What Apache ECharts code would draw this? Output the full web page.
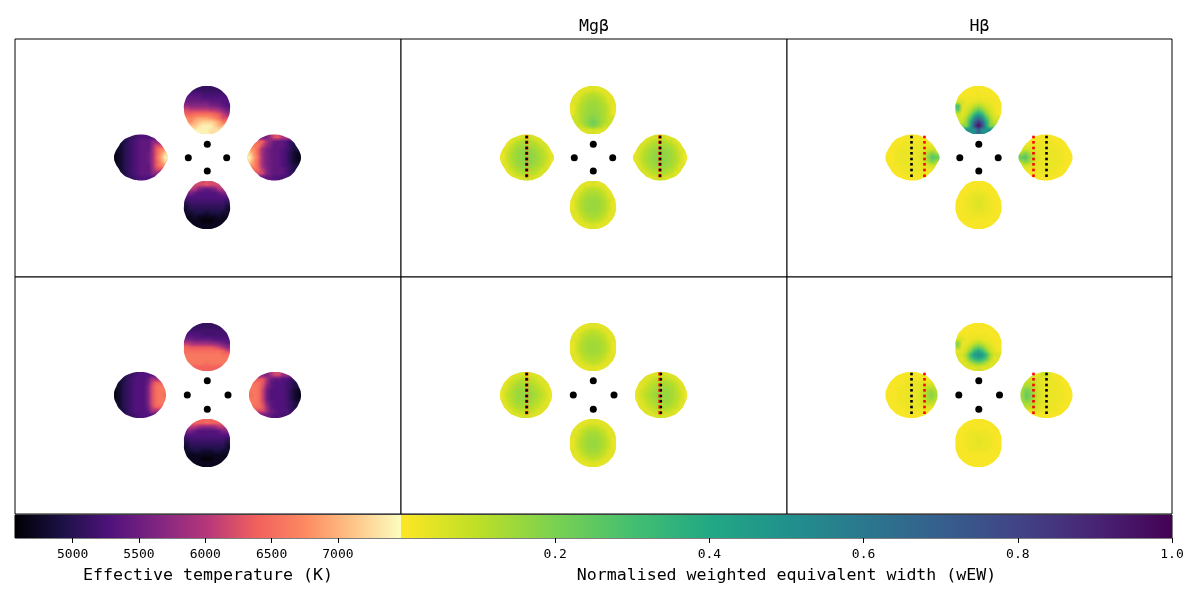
<!DOCTYPE html>
<html>
<head>
<meta charset="utf-8">
<style>html,body{margin:0;padding:0;background:#fff}#main{width:1200px;height:600px}</style>
<script src="https://cdn.jsdelivr.net/npm/echarts@6/dist/echarts.min.js"></script>
</head>
<body>
<div id="main"></div>
<script>
// temperature maps in units of 100 K, wEW maps in percent, 0 = off the disc
// upper row, temperature
var tempTopA=[[0,0,0,0,51,51,51,0,0,0,0],[0,0,53,53,52,52,52,52,52,0,0],[0,54,54,54,53,53,53,53,53,53,0],[0,55,55,55,55,55,54,54,54,53,0],[58,57,57,57,57,57,56,56,55,54,53],[62,61,61,61,61,61,60,60,59,57,55],[64,64,65,65,65,65,65,64,63,61,58],[0,67,68,69,69,69,68,67,65,62,0],[0,68,70,71,72,72,72,71,69,66,0],[0,0,71,73,74,74,74,72,70,0,0],[0,0,0,0,74,74,73,0,0,0,0]];
var tempLeftA=[[0,0,0,0,51,52,53,53,53,0,0,0,0],[0,0,49,51,52,53,54,54,54,57,0,0,0],[0,48,50,51,52,53,54,54,54,58,62,0,0],[0,48,50,51,52,53,54,54,54,59,64,67,0],[47,48,50,51,52,53,54,54,55,59,64,68,72],[47,48,50,51,52,53,54,54,55,59,65,69,74],[47,48,50,51,52,53,54,54,55,59,64,68,72],[0,48,50,51,52,53,54,54,54,59,64,67,0],[0,48,50,51,52,53,54,54,54,58,62,0,0],[0,0,49,51,52,53,54,54,54,57,0,0,0],[0,0,0,0,51,52,53,53,53,0,0,0,0]];
var tempRightA=[[0,0,0,0,55,58,62,63,60,0,0,0,0],[0,0,0,64,60,57,55,54,54,53,51,0,0],[0,0,66,62,58,56,54,54,54,53,51,49,0],[0,68,64,59,56,55,54,54,53,52,51,49,0],[72,68,64,59,56,55,54,54,53,52,50,48,47],[74,69,65,59,56,55,54,54,53,52,50,48,47],[72,68,64,59,56,55,54,54,53,52,50,48,47],[0,68,64,59,56,55,54,54,53,52,51,49,0],[0,0,65,61,57,55,54,54,54,53,51,49,0],[0,0,0,62,57,55,54,54,54,53,51,0,0],[0,0,0,0,54,54,53,53,52,0,0,0,0]];
var tempBottomA=[[0,0,0,0,62,63,62,0,0,0,0],[0,0,60,56,55,54,55,56,60,0,0],[0,56,54,53,53,53,53,53,54,56,0],[0,53,53,53,53,53,53,53,53,53,0],[51,52,52,52,52,52,52,52,52,52,51],[49,51,51,51,51,51,51,51,51,51,49],[48,50,50,50,50,50,50,50,50,50,48],[0,48,49,49,49,48,49,49,49,48,0],[0,47,48,47,47,47,47,47,48,47,0],[0,0,47,47,46,46,46,47,47,0,0],[0,0,0,0,47,47,47,0,0,0,0]];
// lower row, temperature
var tempTopB=[[0,0,0,0,51,51,51,0,0,0,0],[0,0,52,52,52,52,52,52,52,0,0],[0,53,53,53,52,52,52,52,52,52,0],[0,55,54,54,54,54,54,53,53,53,0],[60,59,58,58,58,58,57,57,56,55,54],[64,63,63,63,63,63,63,62,61,59,57],[65,65,65,65,65,65,65,65,65,64,62],[0,66,66,66,66,66,66,66,66,65,0],[0,66,66,66,66,66,66,66,66,66,0],[0,0,66,66,66,65,66,66,66,0,0],[0,0,0,0,64,64,64,0,0,0,0]];
var tempLeftB=[[0,0,0,0,51,52,53,53,53,0,0,0,0],[0,0,49,51,52,53,53,53,54,59,0,0,0],[0,48,50,51,52,53,53,53,55,61,64,0,0],[0,48,50,51,52,53,53,53,56,62,65,66,0],[47,48,50,51,52,53,53,53,56,62,65,66,66],[47,48,50,51,52,53,53,53,56,62,65,66,65],[47,48,50,51,52,53,53,53,56,62,65,66,66],[0,48,50,51,52,53,53,53,56,62,65,66,0],[0,48,50,51,52,53,53,53,55,61,64,0,0],[0,0,49,51,52,53,53,53,54,59,0,0,0],[0,0,0,0,51,52,53,53,53,0,0,0,0]];
var tempRightB=[[0,0,0,0,56,59,62,62,58,0,0,0,0],[0,0,0,63,59,55,54,54,53,53,51,0,0],[0,0,65,63,58,54,53,53,53,52,51,49,0],[0,66,65,62,56,54,53,53,53,52,51,49,0],[66,66,65,61,55,53,53,53,53,52,50,48,47],[65,66,65,61,55,53,53,53,53,52,50,48,47],[66,66,65,61,55,53,53,53,53,52,50,48,47],[0,66,65,62,56,54,53,53,53,52,51,49,0],[0,0,65,63,58,54,53,53,53,52,51,49,0],[0,0,0,62,58,55,54,53,53,53,51,0,0],[0,0,0,0,55,54,53,53,52,0,0,0,0]];
var tempBottomB=[[0,0,0,0,64,65,64,0,0,0,0],[0,0,60,58,57,57,57,58,60,0,0],[0,56,54,53,53,53,53,53,54,56,0],[0,53,53,53,53,53,53,53,53,53,0],[51,52,52,52,52,52,52,52,52,52,51],[49,51,51,51,51,51,51,51,51,51,49],[48,50,50,50,50,50,50,50,50,50,48],[0,48,49,49,48,48,48,49,49,48,0],[0,47,47,47,47,47,47,47,47,47,0],[0,0,47,47,46,46,46,47,47,0,0],[0,0,0,0,47,47,47,0,0,0,0]];
// upper row, Mg beta
var mgTopA=[[0,0,0,0,4,6,4,0,0,0,0],[0,0,4,8,10,11,10,8,4,0,0],[0,4,8,11,12,13,12,11,8,4,0],[0,5,10,12,14,14,14,12,10,5,0],[3,8,11,13,15,15,15,13,11,8,3],[3,8,12,14,15,16,15,14,12,8,3],[3,8,12,14,16,17,16,14,12,8,3],[0,8,12,15,17,19,17,15,12,8,0],[0,8,12,15,19,22,19,15,12,8,0],[0,0,8,13,17,20,17,13,8,0,0],[0,0,0,0,5,7,5,0,0,0,0]];
var mgLeftA=[[0,0,0,0,5,7,8,7,5,0,0,0,0],[0,0,4,8,10,12,12,11,10,6,0,0,0],[0,4,8,11,13,14,14,13,12,10,6,0,0],[0,5,10,13,15,16,16,16,14,12,10,5,0],[3,8,11,14,16,17,17,17,15,13,11,7,3],[3,8,12,14,16,17,18,17,16,14,11,8,4],[3,8,11,14,16,17,17,17,15,13,11,7,3],[0,5,10,13,15,16,16,16,14,12,10,5,0],[0,4,8,11,13,14,14,13,12,10,6,0,0],[0,0,4,8,10,12,12,11,10,6,0,0,0],[0,0,0,0,5,7,8,7,5,0,0,0,0]];
var mgRightA=[[0,0,0,0,5,7,8,7,5,0,0,0,0],[0,0,0,6,10,11,12,12,10,8,4,0,0],[0,0,6,10,12,13,14,14,13,11,8,4,0],[0,5,10,12,14,16,16,16,15,13,10,5,0],[3,7,11,13,15,17,17,17,16,14,11,8,3],[4,8,11,14,16,17,18,17,16,14,12,8,3],[3,7,11,13,15,17,17,17,16,14,11,8,3],[0,5,10,12,14,16,16,16,15,13,10,5,0],[0,0,6,10,12,13,14,14,13,11,8,4,0],[0,0,0,6,10,11,12,12,10,8,4,0,0],[0,0,0,0,5,7,8,7,5,0,0,0,0]];
var mgBottomA=[[0,0,0,0,4,6,4,0,0,0,0],[0,0,4,8,10,10,10,8,4,0,0],[0,4,8,11,12,13,12,11,8,4,0],[0,5,10,12,14,14,14,12,10,5,0],[3,8,11,14,15,15,15,14,11,8,3],[3,8,12,14,15,16,15,14,12,8,3],[3,8,11,14,15,15,15,14,11,8,3],[0,5,10,12,14,14,14,12,10,5,0],[0,4,8,11,12,13,12,11,8,4,0],[0,0,4,8,10,10,10,8,4,0,0],[0,0,0,0,4,6,4,0,0,0,0]];
// lower row, Mg beta
var mgTopB=[[0,0,0,0,4,5,4,0,0,0,0],[0,0,4,7,9,10,9,7,4,0,0],[0,4,8,10,11,12,11,10,8,4,0],[0,5,9,12,13,13,13,12,9,5,0],[3,7,11,13,14,14,14,13,11,7,3],[3,8,11,13,14,15,14,13,11,8,3],[3,7,11,13,14,14,14,13,11,7,3],[0,5,9,12,13,13,13,12,9,5,0],[0,4,8,10,11,12,11,10,8,4,0],[0,0,4,7,9,10,9,7,4,0,0],[0,0,0,0,4,5,4,0,0,0,0]];
var mgLeftB=[[0,0,0,0,5,6,7,6,5,0,0,0,0],[0,0,4,7,9,10,10,10,8,5,0,0,0],[0,4,8,10,12,13,12,12,10,8,5,0,0],[0,5,9,12,14,14,14,14,12,10,7,4,0],[3,7,10,13,15,15,15,15,13,11,9,6,3],[3,8,11,13,15,16,16,16,14,12,10,7,3],[3,7,10,13,15,15,15,15,13,11,9,6,3],[0,5,9,12,14,14,14,14,12,10,7,4,0],[0,4,8,10,12,13,12,12,10,8,5,0,0],[0,0,4,7,9,10,10,10,8,5,0,0,0],[0,0,0,0,5,6,7,6,5,0,0,0,0]];
var mgRightB=[[0,0,0,0,5,6,7,6,5,0,0,0,0],[0,0,0,5,8,10,10,10,9,7,4,0,0],[0,0,5,8,10,12,12,13,12,10,8,4,0],[0,4,7,10,12,14,14,14,14,12,9,5,0],[3,6,9,11,13,15,15,15,15,13,10,7,3],[3,7,10,12,14,16,16,16,15,13,11,8,3],[3,6,9,11,13,15,15,15,15,13,10,7,3],[0,4,7,10,12,14,14,14,14,12,9,5,0],[0,0,5,8,10,12,12,13,12,10,8,4,0],[0,0,0,5,8,10,10,10,9,7,4,0,0],[0,0,0,0,5,6,7,6,5,0,0,0,0]];
var mgBottomB=[[0,0,0,0,4,5,4,0,0,0,0],[0,0,4,7,9,10,9,7,4,0,0],[0,4,8,10,12,12,12,10,8,4,0],[0,5,9,12,14,14,14,12,9,5,0],[3,7,11,13,15,15,15,13,11,7,3],[3,8,11,14,15,16,15,14,11,8,3],[3,7,11,13,15,15,15,13,11,7,3],[0,5,9,12,14,14,14,12,9,5,0],[0,4,8,10,12,12,12,10,8,4,0],[0,0,4,7,9,10,9,7,4,0,0],[0,0,0,0,4,5,4,0,0,0,0]];
// upper row, H beta
var hbTopA=[[0,0,0,0,1,1,1,0,0,0,0],[0,0,1,1,1,2,1,1,1,0,0],[0,2,2,2,2,3,2,2,2,1,0],[0,6,3,3,4,5,4,3,2,2,0],[30,4,4,6,10,13,10,6,4,2,1],[25,4,6,10,18,24,18,10,6,3,1],[8,4,8,17,32,42,32,17,8,4,1],[0,6,13,28,50,62,50,28,13,6,0],[0,8,17,38,68,85,68,38,17,8,0],[0,0,18,42,78,97,78,42,18,0,0],[0,0,0,0,50,70,50,0,0,0,0]];
var hbLeftA=[[0,0,0,0,1,1,1,1,1,0,0,0,0],[0,0,1,1,2,2,2,2,2,2,0,0,0],[0,1,1,2,2,2,3,3,3,3,3,0,0],[0,1,2,2,3,3,3,3,3,4,6,7,0],[1,1,2,3,3,3,3,3,4,7,14,20,14],[1,1,2,3,3,3,3,3,5,9,18,27,24],[1,1,2,3,3,3,3,3,4,7,14,20,14],[0,1,2,2,3,3,3,3,3,4,6,7,0],[0,1,1,2,2,2,3,3,3,3,3,0,0],[0,0,1,1,2,2,2,2,2,2,0,0,0],[0,0,0,0,1,1,1,1,1,0,0,0,0]];
var hbRightA=[[0,0,0,0,1,1,1,1,1,0,0,0,0],[0,0,0,2,2,2,2,2,2,1,1,0,0],[0,0,3,3,3,3,3,2,2,2,1,1,0],[0,7,6,4,3,3,3,3,3,2,2,1,0],[14,20,14,7,4,3,3,3,3,3,2,1,1],[24,27,18,9,5,3,3,3,3,3,2,1,1],[14,20,14,7,4,3,3,3,3,3,2,1,1],[0,7,6,4,3,3,3,3,3,2,2,1,0],[0,0,3,3,3,3,3,2,2,2,1,1,0],[0,0,0,2,2,2,2,2,2,1,1,0,0],[0,0,0,0,1,1,1,1,1,0,0,0,0]];
var hbBottomA=[[0,0,0,0,1,1,1,0,0,0,0],[0,0,1,1,1,2,1,1,1,0,0],[0,1,1,2,3,3,3,2,1,1,0],[0,1,2,3,4,4,4,3,2,1,0],[1,1,2,3,4,5,4,3,2,1,1],[1,1,2,3,4,5,4,3,2,1,1],[1,1,2,3,4,4,4,3,2,1,1],[0,1,2,2,3,3,3,2,2,1,0],[0,1,1,2,2,2,2,2,1,1,0],[0,0,1,1,1,1,1,1,1,0,0],[0,0,0,0,1,1,1,0,0,0,0]];
// lower row, H beta
var hbTopB=[[0,0,0,0,1,1,1,0,0,0,0],[0,0,1,1,1,1,1,1,1,0,0],[0,2,1,2,2,2,2,2,1,1,0],[0,5,2,2,3,4,3,2,2,1,0],[18,3,3,5,8,11,8,5,3,2,1],[14,3,6,10,18,22,18,10,6,3,1],[3,4,8,18,32,40,32,18,8,4,2],[0,6,14,32,46,50,46,32,14,6,0],[0,4,11,24,34,38,34,24,11,4,0],[0,0,5,11,17,20,17,11,5,0,0],[0,0,0,0,5,7,5,0,0,0,0]];
var hbLeftB=[[0,0,0,0,1,1,1,1,1,0,0,0,0],[0,0,1,1,1,2,2,2,2,2,0,0,0],[0,1,1,1,2,2,3,3,3,4,4,0,0],[0,1,1,2,2,3,3,3,4,6,9,9,0],[1,1,1,2,2,3,3,3,4,8,13,16,11],[1,1,1,2,2,3,3,3,5,9,14,18,14],[1,1,1,2,2,3,3,3,4,8,13,16,11],[0,1,1,2,2,3,3,3,4,6,9,9,0],[0,1,1,1,2,2,3,3,3,4,4,0,0],[0,0,1,1,1,2,2,2,2,2,0,0,0],[0,0,0,0,1,1,1,1,1,0,0,0,0]];
var hbRightB=[[0,0,0,0,3,8,8,3,1,0,0,0,0],[0,0,0,8,6,3,3,3,2,2,1,0,0],[0,0,10,8,5,3,3,3,3,2,1,1,0],[0,14,14,10,6,4,3,3,3,2,2,1,0],[14,22,18,11,6,4,3,3,3,2,2,1,1],[16,24,20,12,7,4,3,3,3,2,2,1,1],[14,22,18,11,6,4,3,3,3,2,2,1,1],[0,14,14,10,6,4,3,3,3,2,2,1,0],[0,0,10,8,5,3,3,3,3,2,1,1,0],[0,0,0,4,4,3,3,2,2,2,1,0,0],[0,0,0,0,1,1,1,1,1,0,0,0,0]];
var hbBottomB=[[0,0,0,0,1,1,1,0,0,0,0],[0,0,1,1,1,1,1,1,1,0,0],[0,1,1,2,2,2,2,2,1,1,0],[0,1,2,3,3,3,3,3,2,1,0],[1,1,2,3,3,4,3,3,2,1,1],[1,1,2,3,3,4,3,3,2,1,1],[1,1,2,3,3,3,3,3,2,1,1],[0,1,1,2,2,2,2,2,1,1,0],[0,1,1,1,1,1,1,1,1,1,0],[0,0,1,1,1,1,1,1,1,0,0],[0,0,0,0,1,1,1,0,0,0,0]];

var panelTitles=['','Mgβ','Hβ'];
var tempTicks=[5000,5500,6000,6500,7000];
var wewTicks=[0.2,0.4,0.6,0.8,1.0];
var tempRange=[4565,7476];
var wewRange=[0,1];
var magma=['#000004','#1d1147','#51127c','#832681','#b73779','#f1605d','#fc8961','#fec488','#fcfdbf'];
var viridisR=['#fde725','#bddf26','#7ad151','#44bf70','#22a884','#21918c','#2a788e','#355f8d','#414487','#482475','#440154'];

// sky offsets in axis units, y grows downwards
var lobeCentresA=[[-1,-48],[-67,-0.5],[66,-0.5],[-1,47]];
var lobeCentresB=[[-1,-48.5],[-68,-0.5],[67,-0.5],[-1,47.5]];
var eggOutline=[[0,-24],[9,-22.5],[17,-17],[22,-9],[23,0],[21,8],[15.5,17],[8,23],[0,24],[-8,23],[-15.5,17],[-21,8],[-23,0],[-22,-9],[-17,-17],[-9,-22.5]];
var discOutline=[[0,-24],[9,-22.5],[17,-17],[22,-9],[23,0],[22,9],[17,17],[9,22.5],[0,24],[-9,22.5],[-17,17],[-22,9],[-23,0],[-22,-9],[-17,-17],[-9,-22.5]];
var lemonOutline=[[0,-23],[12,-20],[17,-16],[21,-12],[24,-7],[27,0],[24,7],[21,12],[17,16],[12,20],[0,23],[-13,20],[-19,16],[-22.5,11],[-25.5,6],[-27,0],[-25.5,-6],[-22.5,-11],[-19,-16],[-13,-20]];
var ovalOutline=[[0,-23],[12,-20.5],[19,-15.5],[23.5,-9],[26,0],[23.5,9],[19,15.5],[12,20.5],[0,23],[-12,20.5],[-19,15.5],[-23.5,9],[-26,0],[-23.5,-9],[-19,-15.5],[-12,-20.5]];
var fibreXA=[-0.7,-19.7,18.7,-0.7], fibreYA=[-13.7,-0.3,-0.3,13];
var fibreXB=[-0.7,-20.7,20,-0.7], fibreYB=[-14.8,-0.5,-0.5,13.8];
var slitYA=[-21,-15.7,-10,-4.7,1,6.3,12,17.7];
var slitYB=[-21.5,-16.2,-10.5,-5.2,0.5,5.8,11.5,17.2];
var mgBlackXA=[-67.3,66], mgRedXA=[-67.3,66];
var mgBlackXB=[-67.3,67], mgRedXB=[-67.3,66];
var hbBlackX=[-68,67], hbRedX=[-55,54];

var FONT='"DejaVu Sans Mono"';
var panelLeft=[15,401,787], panelTop=[39,277];
var panelW=[386,386,385], panelH=[238,237];
var mapStep=4, rimPad=4;

var maps=[
	[[tempTopA,tempLeftA,tempRightA,tempBottomA],[mgTopA,mgLeftA,mgRightA,mgBottomA],[hbTopA,hbLeftA,hbRightA,hbBottomA]],
	[[tempTopB,tempLeftB,tempRightB,tempBottomB],[mgTopB,mgLeftB,mgRightB,mgBottomB],[hbTopB,hbLeftB,hbRightB,hbBottomB]]
];
// outline, mirror x, mirror y for top, left, right, bottom lobes
var shapesA=[[eggOutline,1,1],[lemonOutline,1,1],[lemonOutline,-1,1],[eggOutline,1,-1]];
var shapesB=[[discOutline,1,1],[ovalOutline,1,1],[ovalOutline,-1,1],[discOutline,1,1]];

function tempColor(v){
	return echarts.color.lerp((v*100-tempRange[0])/(tempRange[1]-tempRange[0]),magma);
}
function wewColor(v){
	return echarts.color.lerp(v/100,viridisR);
}

// off-disc cells take the nearest value of their row, the outline clips them away anyway
function fillRow(row){
	return row.map(function(v,c){
		if(v!==0) return v;
		for(var d=1;d<row.length;d++){
			if(row[c+d]) return row[c+d];
			if(row[c-d]) return row[c-d];
		}
		return 0;
	});
}

// smooth shading of the map, like gouraud in pcolormesh: thin strips with a gradient through the cells
function lobeItem(rowsOfLobe,shapesOf,colorOf){
	return function(params,api){
		var k=params.dataIndex;
		var rows=rowsOfLobe[k].map(fillRow), shape=shapesOf[k];
		var cx=api.value(0), cy=api.value(1);
		var nr=rows.length, nc=rows[0].length;
		var px0=api.coord([cx-(nc-1)/2*mapStep,cy])[0], px1=api.coord([cx+(nc-1)/2*mapStep,cy])[0];
		var py0=api.coord([cx,cy-(nr-1)/2*mapStep])[1], py1=api.coord([cx,cy+(nr-1)/2*mapStep])[1];
		var top=Math.round(py0-mapStep/2-rimPad), bottom=Math.round(py1+mapStep/2+rimPad);
		var pxPerRow=(py1-py0)/(nr-1);
		var children=[];
		for(var y=top;y<bottom;y++){
			var pos=Math.max(0,Math.min(nr-1,(y+0.5-py0)/pxPerRow));
			var r=Math.min(nr-2,Math.floor(pos)), w=pos-r, stopsRow=[];
			for(var c=0;c<nc;c++){
				stopsRow.push({offset:c/(nc-1),color:colorOf(rows[r][c]*(1-w)+rows[r+1][c]*w)});
			}
			children.push({type:'rect',shape:{x:px0-mapStep/2-rimPad,y:y,width:px1-px0+mapStep+2*rimPad,height:1},
				style:{fill:new echarts.graphic.LinearGradient(px0,0,px1,0,stopsRow,true)}});
		}
		var pts=shape[0].map(function(p){return api.coord([cx+p[0]*shape[1],cy+p[1]*shape[2]]);});
		return {type:'group',clipPath:{type:'polygon',shape:{points:pts,smooth:0.5}},children:children};
	};
}

var grids=[],xAxes=[],yAxes=[],series=[];
for(var i=0;i<2;i++){
	var centres=i==0?lobeCentresA:lobeCentresB;
	for(var j=0;j<3;j++){
		var g=grids.length;
		grids.push({show:true,left:panelLeft[j],top:panelTop[i],width:panelW[j],height:panelH[i],borderColor:'#000',borderWidth:1,backgroundColor:'#fff'});
		xAxes.push({gridIndex:g,type:'value',min:-panelW[j]/2,max:panelW[j]/2,show:false});
		yAxes.push({gridIndex:g,type:'value',min:-panelH[i]/2,max:panelH[i]/2,inverse:true,show:false});
		series.push({type:'custom',coordinateSystem:'cartesian2d',xAxisIndex:g,yAxisIndex:g,silent:true,clip:false,data:centres,encode:{x:0,y:1},
			renderItem:lobeItem(maps[i][j],i==0?shapesA:shapesB,j==0?tempColor:wewColor),z:2});
		// fibres
		var fx=i==0?fibreXA:fibreXB, fy=i==0?fibreYA:fibreYB, fibres=[];
		for(var f=0;f<fx.length;f++) fibres.push([fx[f],fy[f]]);
		series.push({type:'scatter',xAxisIndex:g,yAxisIndex:g,data:fibres,symbolSize:7,silent:true,itemStyle:{color:'#000',opacity:1},z:4});
		// slit positions
		if(j>0){
			var blackX=j==1?(i==0?mgBlackXA:mgBlackXB):hbBlackX;
			var redX=j==1?(i==0?mgRedXA:mgRedXB):hbRedX;
			var slitY=i==0?slitYA:slitYB, red=[], black=[];
			for(var s=0;s<slitY.length;s++){
				for(var q=0;q<2;q++){
					red.push([redX[q],slitY[s]]);
					black.push([blackX[q],slitY[s]]);
				}
			}
			series.push({type:'scatter',xAxisIndex:g,yAxisIndex:g,data:red,symbol:'rect',symbolSize:j==1?3.2:2.6,silent:true,itemStyle:{color:'#f00',opacity:1},z:5});
			series.push({type:'scatter',xAxisIndex:g,yAxisIndex:g,data:black,symbol:'rect',symbolSize:j==1?2.2:2.6,silent:true,itemStyle:{color:'#000',opacity:1},z:6});
		}
	}
}

function stops(colors){
	return colors.map(function(c,n){return {offset:n/(colors.length-1),color:c};});
}
function colorbarItem(colors){
	return function(params,api){
		var a=api.coord([api.value(0),0]), b=api.coord([api.value(1),1]);
		return {type:'rect',shape:{x:a[0],y:b[1],width:b[0]-a[0],height:a[1]-b[1]},style:{fill:new echarts.graphic.LinearGradient(0,0,1,0,stops(colors))}};
	};
}
function addColorbar(left,width,range,ticks,name,colors,fmt){
	var g=grids.length;
	grids.push({show:true,left:left,top:515,width:width,height:23,borderColor:'#000',borderWidth:1});
	xAxes.push({gridIndex:g,type:'value',min:range[0],max:range[1],position:'bottom',
		axisLine:{show:false},splitLine:{show:false},
		axisTick:{show:true,length:5,inside:false,customValues:ticks,lineStyle:{color:'#000',width:1}},
		axisLabel:{show:true,customValues:ticks,formatter:fmt,color:'#000',fontFamily:FONT,fontSize:13,margin:10,hideOverlap:false},
		name:name,nameLocation:'middle',nameGap:38,nameTextStyle:{color:'#000',fontFamily:FONT,fontSize:16.6,verticalAlign:'middle'}});
	yAxes.push({gridIndex:g,type:'value',min:0,max:1,show:false});
	series.push({type:'custom',xAxisIndex:g,yAxisIndex:g,silent:true,clip:true,data:[[range[0],range[1]]],encode:{x:[0,1]},renderItem:colorbarItem(colors),z:1});
}
addColorbar(15,386,tempRange,tempTicks,'Effective temperature (K)',magma,function(v){return String(v);});
addColorbar(401,771,wewRange,wewTicks,'Normalised weighted equivalent width (wEW)',viridisR,function(v){return v.toFixed(1);});

var titles=[];
for(var t=0;t<3;t++){
	if(panelTitles[t]) titles.push({text:panelTitles[t],left:panelLeft[t]+panelW[t]/2,top:18,padding:0,textAlign:'center',textStyle:{color:'#000',fontFamily:FONT,fontSize:16.6,fontWeight:'normal'}});
}

var chart=echarts.init(document.getElementById('main'));
chart.setOption({
	backgroundColor:'#fff',
	animation:false,
	title:titles,
	tooltip:{show:false},
	grid:grids,
	xAxis:xAxes,
	yAxis:yAxes,
	series:series
});
</script>
</body>
</html>
